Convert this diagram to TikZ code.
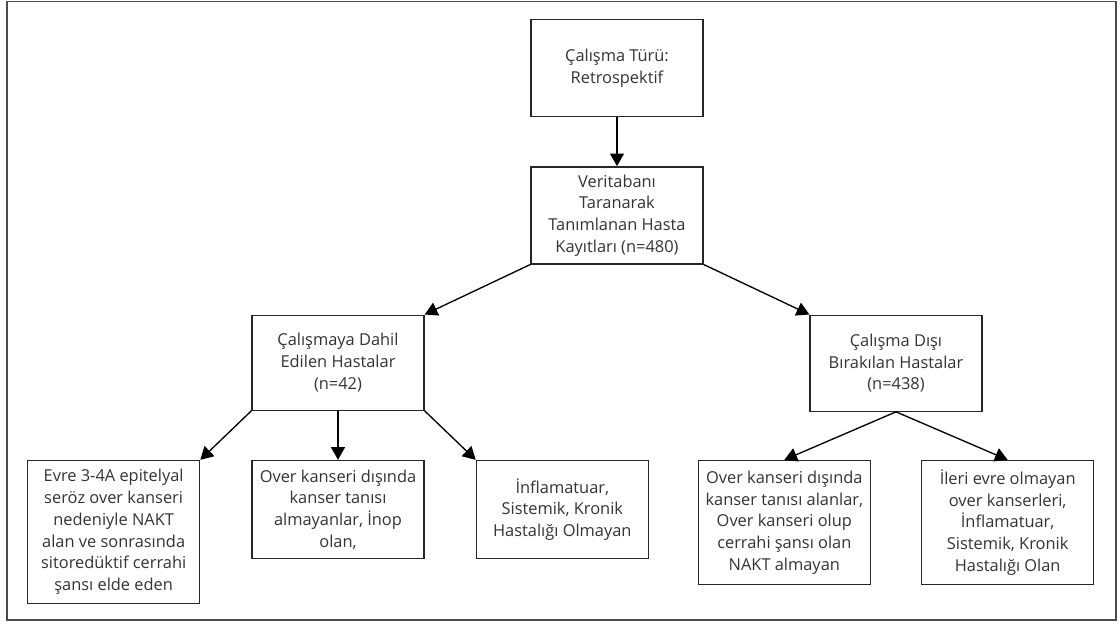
\documentclass[tikz,border=0pt]{standalone}
\usepackage{fontspec}
\setmainfont{Open Sans}
\usepackage{xcolor}
\usetikzlibrary{arrows.meta,positioning}
\definecolor{FlowText}{HTML}{333333}

\begin{document}
\begin{tikzpicture}[
  node distance=36.75pt and 38.25pt,
  box/.style={draw=black!85, line width=1pt, align=center, inner sep=2pt, minimum width=129pt, text=FlowText, font=\fontsize{12.3}{16.3}\selectfont},
  arrow/.style={-{Triangle[length=9.5pt,width=10.5pt]}, line width=1pt}
]
\useasboundingbox (0,0) rectangle (840pt,-469.5pt);
\draw[line width=1pt, black!70] (5.25pt,-1.1pt) rectangle (837pt,-465pt);

\node[box, minimum height=72.75pt] (tur) at (462.75pt,-51pt) {Çalışma Türü:\\Retrospektif};
\node[box, below=of tur, minimum height=72.75pt] (kayit) {Veritabanı\\Taranarak\\Tanımlanan Hasta\\Kayıtları (n=480)};
\node[box, below=37.5pt of kayit, xshift=-209.25pt, minimum height=71.25pt] (dahil) {Çalışmaya Dahil\\Edilen Hastalar\\(n=42)};
\node[box, below=37.5pt of kayit, xshift=209.25pt, minimum height=72pt] (disi) {Çalışma Dışı\\Bırakılan Hastalar\\(n=438)};

\node[box, below=of dahil, minimum height=73.5pt] (inop) {Over kanseri dışında\\kanser tanısı\\almayanlar, İnop\\olan,};
\node[box, left=of inop.north west, anchor=north east, minimum height=107.25pt] (evre) {Evre 3-4A epitelyal\\seröz over kanseri\\nedeniyle NAKT\\alan ve sonrasında\\sitoredüktif cerrahi\\şansı elde eden};
\node[box, right=of inop.north east, anchor=north west, minimum height=73.5pt] (inflam) {İnflamatuar,\\Sistemik, Kronik\\Hastalığı Olmayan};
\node[box, below left=36pt and 18.75pt of disi.south, minimum height=93pt] (diger) {Over kanseri dışında\\kanser tanısı alanlar,\\Over kanseri olup\\cerrahi şansı olan\\NAKT almayan};
\node[box, below right=36pt and 18.75pt of disi.south, minimum height=93pt] (ileri) {İleri evre olmayan\\over kanserleri,\\İnflamatuar,\\Sistemik, Kronik\\Hastalığı Olan};

\draw[arrow] (tur) -- (kayit);
\draw[arrow] (kayit.south west) -- (dahil.north east);
\draw[arrow] (kayit.south east) -- (disi.north west);
\draw[arrow] (dahil.south west) -- (evre.north east);
\draw[arrow] (dahil) -- (inop);
\draw[arrow] (dahil.south east) -- (inflam.north west);
\draw[arrow] (disi.south) -- (diger.north);
\draw[arrow] (disi.south) -- (ileri.north);
\end{tikzpicture}
\end{document}
